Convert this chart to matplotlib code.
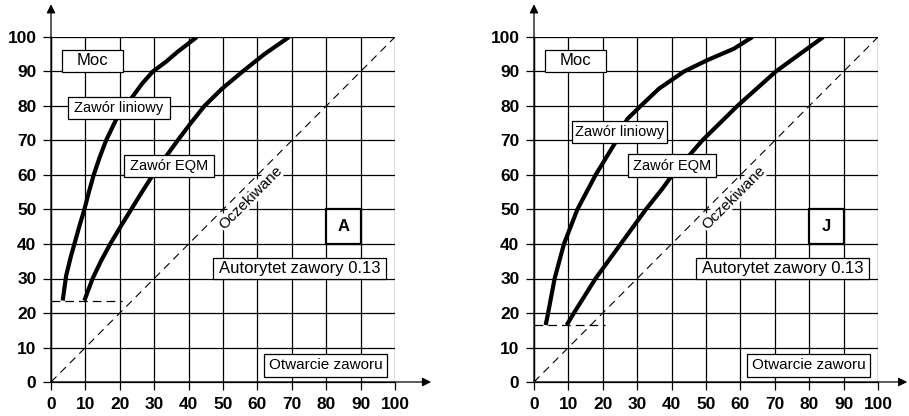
import numpy as np
import matplotlib
matplotlib.use("Agg")
from matplotlib import pyplot as plt
import matplotlib.patches as mpatches

plt.rcParams['font.family'] = ['Liberation Sans', 'DejaVu Sans']

ticks = list(range(0, 101, 10))

# panel A - valve authority 0.13
a_lin_x = [3.4, 4.4, 5.8, 6.8, 8.2, 9.7, 11.0, 12.4, 14.1, 16.0, 18.9, 23.7, 26.5, 29.6, 33.4, 36.8, 42.4]
a_lin_y = [23.6, 30.8, 36.5, 40.0, 45.0, 50.0, 55.0, 60.0, 65.0, 70.0, 76.0, 82.7, 86.5, 90.0, 92.8, 95.7, 100]
a_eqm_x = [9.7, 12.1, 14.5, 17.2, 20.2, 23.3, 26.4, 29.6, 33.9, 36.8, 40.6, 44.6, 49.7, 55.7, 62.0, 69.2]
a_eqm_y = [23.6, 30.0, 35.0, 40.0, 45.0, 50.0, 55.0, 60.0, 66.0, 70.0, 75.0, 80.0, 85.0, 90.0, 95.0, 100]
a_start = 23.6

# panel J
j_lin_x = [3.4, 4.1, 6.0, 8.7, 12.6, 17.9, 24.0, 27.1, 31.0, 36.3, 43.6, 50.4, 58.1, 63.5]
j_lin_y = [16.5, 20.0, 30.0, 40.0, 50.0, 60.0, 70.0, 76.2, 80.0, 85.0, 90.0, 93.3, 96.6, 100]
j_eqm_x = [9.5, 11.6, 17.9, 25.2, 32.5, 37.3, 40.2, 48.9, 59.1, 70.3, 84.1]
j_eqm_y = [16.5, 20.0, 30.0, 40.0, 50.0, 56.0, 60.0, 70.0, 80.0, 90.0, 100]
j_start = 16.5


def box(ax, x0, y0, x1, y1, txt, size, bold=False, lw=0.9):
    r = mpatches.Rectangle((x0, y0), x1 - x0, y1 - y0, facecolor='white',
                           edgecolor='black', lw=lw, zorder=5, clip_on=False)
    ax.add_patch(r)
    ax.text((x0 + x1) / 2, (y0 + y1) / 2, txt, ha='center', va='center',
            fontsize=size, fontweight='bold' if bold else 'normal', zorder=6)


def panel(ax, lin_x, lin_y, eqm_x, eqm_y, start, letter, lin_box, eqm_box, x_tip):
    ax.set_xlim(0, 100)
    ax.set_ylim(0, 100)
    ax.set_xticks(ticks)
    ax.set_yticks(ticks)
    ax.set_xticklabels([str(t) for t in ticks], fontweight='bold', fontsize=12.5)
    ax.set_yticklabels([str(t) for t in ticks], fontweight='bold', fontsize=12.5)
    ax.tick_params(length=5.5, width=0.9, color='black', pad=5)
    ax.grid(True, color='black', lw=0.9)
    for s in ['top', 'right']:
        ax.spines[s].set_visible(False)
    for s in ['left', 'bottom']:
        ax.spines[s].set_linewidth(0.9)
    ax.set_axisbelow(True)

    ax.annotate('', xy=(x_tip, 0), xytext=(0, 0), annotation_clip=False,
                arrowprops=dict(arrowstyle='-|>', color='black', lw=0.9,
                                mutation_scale=13, shrinkA=0, shrinkB=0))
    ax.annotate('', xy=(0, 109.5), xytext=(0, 0), annotation_clip=False,
                arrowprops=dict(arrowstyle='-|>', color='black', lw=0.9,
                                mutation_scale=13, shrinkA=0, shrinkB=0))

    # expected (linear) line
    ax.plot([0, 100], [0, 100], color='black', lw=0.8, ls=(0, (7, 5)), zorder=3)
    ax.plot([0, 20.5], [start, start], color='black', lw=0.9, ls=(0, (7, 4)), zorder=3)
    ax.text(58, 53.5, 'Oczekiwane', rotation=45, ha='center', va='center',
            fontsize=11, zorder=4,
            bbox=dict(facecolor='white', edgecolor='none', pad=0.5))

    ax.plot(lin_x, lin_y, color='black', lw=3, solid_capstyle='butt',
            solid_joinstyle='round', zorder=4)
    ax.plot(eqm_x, eqm_y, color='black', lw=3, solid_capstyle='butt',
            solid_joinstyle='round', zorder=4)

    box(ax, 3.2, 89.9, 20.9, 96.2, 'Moc', 12)
    box(ax, *lin_box, 'Zawór liniowy', 10.5)
    box(ax, *eqm_box, 'Zawór EQM', 10.5)
    box(ax, 80, 40, 90, 50, letter, 12, bold=True, lw=1.6)
    box(ax, 47.0, 29.9, 97.4, 36.0, 'Autorytet zawory 0.13', 12)
    box(ax, 62.0, 1.5, 97.7, 8.1, 'Otwarcie zaworu', 11)


fig = plt.figure(figsize=(9.09, 4.16), dpi=100)
ax1 = fig.add_axes([51 / 909, 34 / 416, 344 / 909, 345 / 416])
ax2 = fig.add_axes([534 / 909, 34 / 416, 344 / 909, 345 / 416])

panel(ax1, a_lin_x, a_lin_y, a_eqm_x, a_eqm_y, a_start, 'A',
      (5.0, 76.2, 34.6, 82.6), (21.2, 59.4, 47.4, 65.8), 110.5)
panel(ax2, j_lin_x, j_lin_y, j_eqm_x, j_eqm_y, j_start, 'J',
      (11.0, 69.4, 38.8, 75.7), (27.3, 59.3, 53.0, 66.0), 108.5)

fig.savefig('out.png', dpi=100)
